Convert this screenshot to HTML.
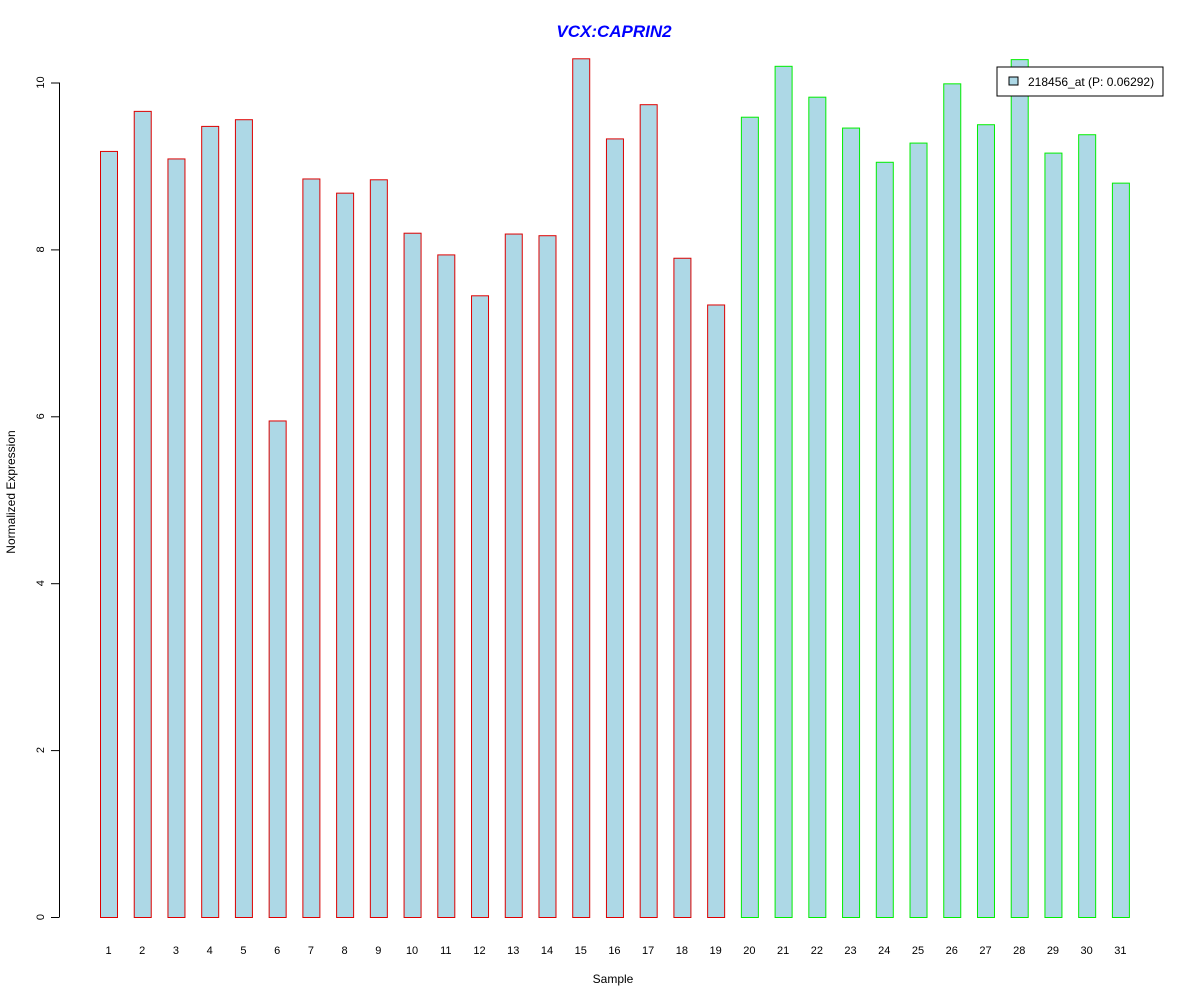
<!DOCTYPE html>
<html><head><meta charset="utf-8"><style>body{margin:0;background:#fff}svg{display:block;font-family:"Liberation Sans",Arial,sans-serif}</style></head>
<body>
<svg id="chart" width="1200" height="1000" xmlns="http://www.w3.org/2000/svg">
<rect width="1200" height="1000" fill="#fff"/>
<text x="614" y="37" text-anchor="middle" font-size="17" font-weight="bold" font-style="italic" fill="#0000ff">VCX:CAPRIN2</text>
<text x="613" y="983" text-anchor="middle" font-size="12">Sample</text>
<text transform="translate(15,492) rotate(-90)" text-anchor="middle" font-size="12">Normalized Expression</text>
<g id="bars"></g><g id="yaxis"></g><g id="xlabels"></g>
<g>
<rect x="997" y="67" width="166" height="29" fill="#fff" stroke="#000"/>
<rect x="1009" y="77" width="9" height="8" fill="#add8e6" stroke="#000"/>
<text x="1028" y="86" font-size="12">218456_at (P: 0.06292)</text>
</g>
</svg>
<script>
const categories=[1,2,3,4,5,6,7,8,9,10,11,12,13,14,15,16,17,18,19,20,21,22,23,24,25,26,27,28,29,30,31];
const values=[9.18,9.66,9.09,9.48,9.56,5.95,8.85,8.68,8.84,8.20,7.94,7.45,8.19,8.17,10.29,9.33,9.74,7.90,7.34,9.59,10.20,9.83,9.46,9.05,9.28,9.99,9.50,10.28,9.16,9.38,8.80];
const groups=["a","a","a","a","a","a","a","a","a","a","a","a","a","a","a","a","a","a","a","b","b","b","b","b","b","b","b","b","b","b","b"];
const yTicks=[0,2,4,6,8,10];
const NS="http://www.w3.org/2000/svg";
const y=v=>917-v*83.45;
const x=i=>100+i*33.73;
const bars=document.getElementById('bars');
values.forEach((v,i)=>{
 const r=document.createElementNS(NS,'rect');
 
 
 r.setAttribute('x',x(i)+0.5);r.setAttribute('y',y(v)+0.5);
 r.setAttribute('width',17);r.setAttribute('height',917-y(v));
 r.setAttribute('fill','#add8e6');r.setAttribute('stroke',groups[i]==='a'?'#dd0000':'#00ee00');
 bars.appendChild(r);
 const t=document.createElementNS(NS,'text');
 
 
 t.setAttribute('x',x(i)+8.5);t.setAttribute('y',954);t.setAttribute('text-anchor','middle');t.setAttribute('font-size','11');
 t.textContent=categories[i];document.getElementById('xlabels').appendChild(t);
});
const ya=document.getElementById('yaxis');
const l=document.createElementNS(NS,'line');


l.setAttribute('x1',59.5);l.setAttribute('x2',59.5);l.setAttribute('y1',y(0));l.setAttribute('y2',y(10));l.setAttribute('stroke','#000');
ya.appendChild(l);
yTicks.forEach(v=>{
 const tk=document.createElementNS(NS,'line');
 
 
 tk.setAttribute('x1',51);tk.setAttribute('x2',59.5);tk.setAttribute('y1',y(v)+0.5);tk.setAttribute('y2',y(v)+0.5);tk.setAttribute('stroke','#000');
 ya.appendChild(tk);
 const t=document.createElementNS(NS,'text');
 
 
 t.setAttribute('transform','translate(44,'+y(v)+') rotate(-90)');t.setAttribute('text-anchor','middle');t.setAttribute('font-size','11');
 t.textContent=v;ya.appendChild(t);
});
</script>
</body></html>
